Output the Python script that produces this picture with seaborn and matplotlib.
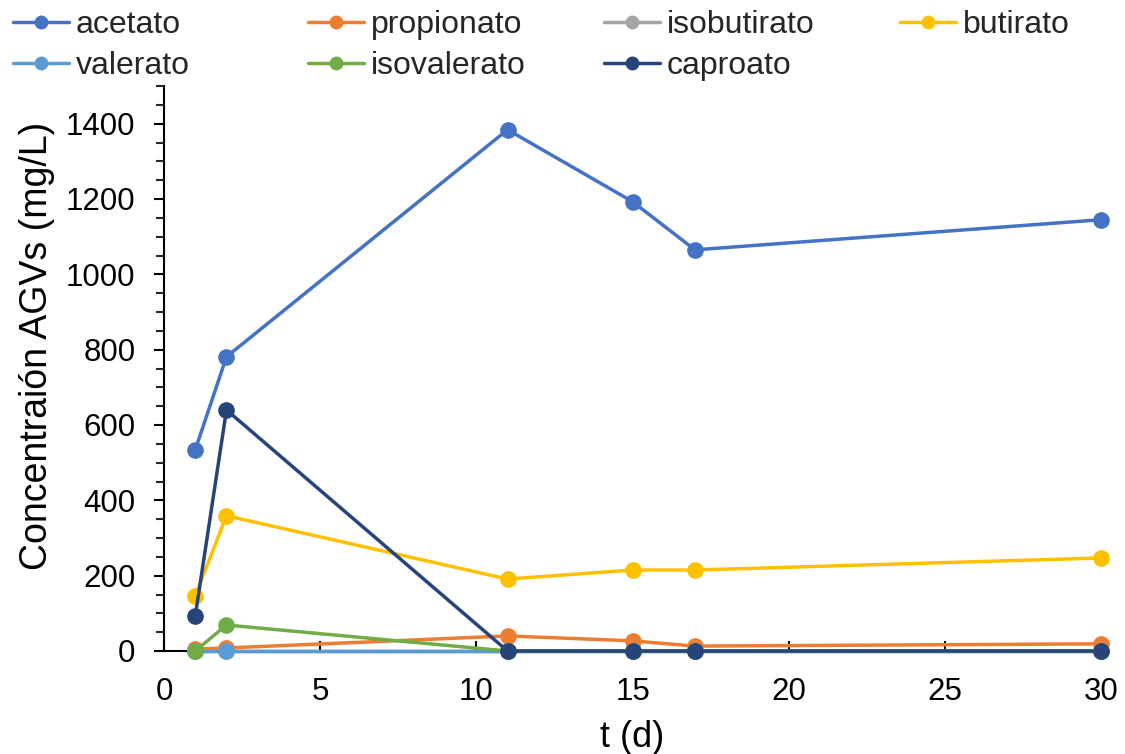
import matplotlib
matplotlib.use("Agg")
import matplotlib.pyplot as plt
import seaborn as sns
import pandas as pd
from matplotlib.ticker import MultipleLocator
from matplotlib.lines import Line2D

days = [1, 2, 11, 15, 17, 30]
acetato = [534, 781, 1384, 1193, 1065, 1145]
propionato = [5, 8, 40, 27, 13, 19]
isobutirato = [0, 0, 0, 0, 0, 0]
butirato = [146, 359, 191, 215, 215, 247]
valerato = [0, 0, 0, 0, 0, 0]
isovalerato = [0, 69, 0, 0, 0, 0]
caproato = [93, 640, 0, 0, 0, 0]

names = ["acetato", "propionato", "isobutirato", "butirato",
         "valerato", "isovalerato", "caproato"]
series = [acetato, propionato, isobutirato, butirato, valerato, isovalerato, caproato]
colors = ["#4472C4", "#ED7D31", "#A5A5A5", "#FFC000", "#5B9BD5", "#70AD47", "#264478"]

rows = []
for n, vals in zip(names, series):
    for d, v in zip(days, vals):
        rows.append({"t": d, "c": v, "serie": n})
df = pd.DataFrame(rows)

sns.set_style("white")
plt.rcParams["font.family"] = ["Liberation Sans", "DejaVu Sans"]

W, H = 1125, 754
fig = plt.figure(figsize=(W / 100, H / 100), dpi=100)
ax = fig.add_axes([164 / W, 1 - 651 / H, (1101 - 164) / W, (651 - 86) / H])

sns.lineplot(data=df, x="t", y="c", hue="serie", hue_order=names,
             palette=colors, marker="o", markersize=12, markeredgewidth=0,
             linewidth=2.5, ax=ax, legend=False, sort=False, clip_on=False)

ax.set_xlim(0, 30)
ax.set_ylim(0, 1500)
ax.xaxis.set_major_locator(MultipleLocator(5))
ax.yaxis.set_minor_locator(MultipleLocator(50))
ax.set_yticks([0, 200, 400, 600, 800, 1000, 1200, 1400])

for s in ["top", "right"]:
    ax.spines[s].set_visible(False)
for s in ["left", "bottom"]:
    ax.spines[s].set_color("black")
    ax.spines[s].set_linewidth(1.5)
    ax.spines[s].set_zorder(0)

ax.tick_params(axis="y", which="major", direction="out", length=7.5, width=1.5,
               labelsize=22.5, colors="black", left=True, pad=13)
ax.tick_params(axis="y", which="minor", direction="out", length=5.5, width=1.5, left=True)
ax.tick_params(axis="x", which="major", direction="in", length=7, width=1.5,
               labelsize=22.5, colors="black", bottom=True, pad=19)

ax.set_xlabel("t (d)", fontsize=26, color="black", labelpad=9)
ax.set_ylabel("Concentraión AGVs (mg/L)", fontsize=27, color="black")
ax.yaxis.set_label_coords(-0.116, 0.54)

# legend: 4 evenly spaced columns, row-major order like the reference
col_x = [3, 298, 594, 890]
cols = [[0, 4], [1, 5], [2, 6], [3]]
for cx, idx in zip(col_x, cols):
    hs = [Line2D([0], [0], color=colors[i], lw=2.5, marker="o", markersize=10,
                 markeredgewidth=0) for i in idx]
    fig.legend(hs, [names[i] for i in idx], loc="upper left",
               bbox_to_anchor=(cx / W, 1.0), frameon=False, fontsize=23,
               handlelength=1.75, handletextpad=0.2, labelspacing=0.33,
               borderaxespad=0.0, borderpad=0.32)

fig.savefig("out.png", dpi=100)
